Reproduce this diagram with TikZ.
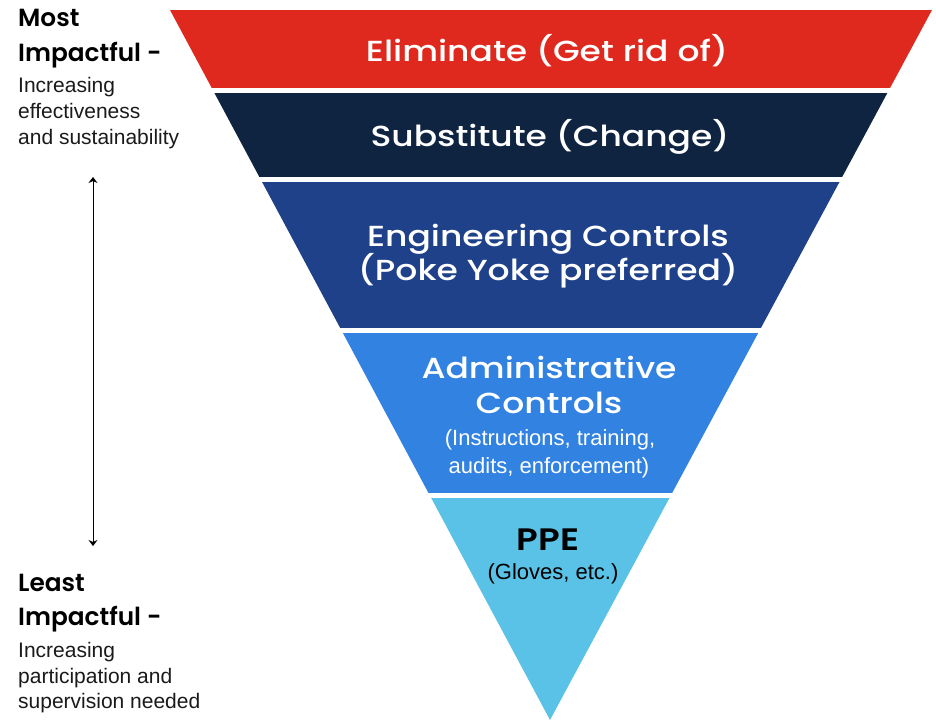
\documentclass[tikz,border=0pt]{standalone}
\usepackage{fontspec}
\setmainfont{Liberation Sans}
\newfontfamily\popmed[FakeStretch=1.19]{Poppins Medium}
\newfontfamily\popsbw[FakeStretch=1.15]{Poppins SemiBold}
\newfontfamily\popsb{Poppins SemiBold}
\usetikzlibrary{arrows.meta}
\definecolor{cRed}{HTML}{DF291E}
\definecolor{cNavy}{HTML}{0F2441}
\definecolor{cEng}{HTML}{1F4189}
\definecolor{cAdm}{HTML}{3282E2}
\definecolor{cPPE}{HTML}{5BC2E7}
\definecolor{cInk}{HTML}{1A1A1A}
\tikzset{
  bandtitle/.style={anchor=base, inner sep=0pt, text=white, font=\popmed\fontsize{29}{34}\selectfont},
  bandsub/.style={anchor=base, inner sep=0pt, text=white, font=\fontsize{22}{26}\selectfont},
  sidehead/.style={anchor=base west, inner sep=0pt, text=black, font=\popsb\fontsize{24.8}{30}\selectfont},
  sidetext/.style={anchor=base west, inner sep=0pt, text=cInk, font=\fontsize{21}{26}\selectfont},
  scalearrow/.style={{Stealth[length=6pt,width=9pt]}-{Stealth[length=6pt,width=9pt]}, line width=1pt, black}
}
\begin{document}
\begin{tikzpicture}[x=1pt,y=-1pt]
\useasboundingbox (0,0) rectangle (936,720);
\coordinate (A) at (170,10);
\coordinate (B) at (932,10);
\coordinate (C) at (550,720);
\begin{scope}
  \clip (A) -- (B) -- (C) -- cycle;
  \fill[cRed]  (150,10)  rectangle (950,88);
  \fill[cNavy] (150,93)  rectangle (950,177);
  \fill[cEng]  (150,182) rectangle (950,328);
  \fill[cAdm]  (150,333) rectangle (950,493);
  \fill[cPPE]  (150,498) rectangle (950,722);
\end{scope}
% band texts
\node[bandtitle] (elim) at (547,61) {Eliminate (Get rid of)};
\node[bandtitle] (subst) at (550,146) {Substitute (Change)};
\node[bandtitle] (eng1) at (548,246) {Engineering Controls};
\node[bandtitle] (eng2) at (548,280) {(Poke Yoke preferred)};
\node[bandtitle] (adm1) at (549,378) {Administrative};
\node[bandtitle] (adm2) at (549,413) {Controls};
\node[bandsub] (adm3) at (550,445) {(Instructions, training,};
\node[bandsub] (adm4) at (549,473) {audits, enforcement)};
\node[bandtitle, text=black, font=\popsbw\fontsize{31}{34}\selectfont] (ppe1) at (548,550) {PPE};
\node[bandsub, text=black] (ppe2) at (553,579) {(Gloves, etc.)};
% left texts
\node[sidehead] (most1) at (18,27) {Most};
\node[sidehead] (most2) at (18,61) {Impactful -};
\node[sidetext] (most3) at (18,92) {Increasing};
\node[sidetext] (most4) at (18,118) {effectiveness};
\node[sidetext] (most5) at (18,144) {and sustainability};
\node[sidehead] (least1) at (18,591) {Least};
\node[sidehead] (least2) at (18,625) {Impactful -};
\node[sidetext] (least3) at (18,657) {Increasing};
\node[sidetext] (least4) at (18,683) {participation and};
\node[sidetext] (least5) at (18,708) {supervision needed};
\coordinate (arrtop) at (93,177);
\coordinate (arrbot) at (93,546);
\draw[scalearrow] (arrtop) -- (arrbot);
\end{tikzpicture}
\end{document}
